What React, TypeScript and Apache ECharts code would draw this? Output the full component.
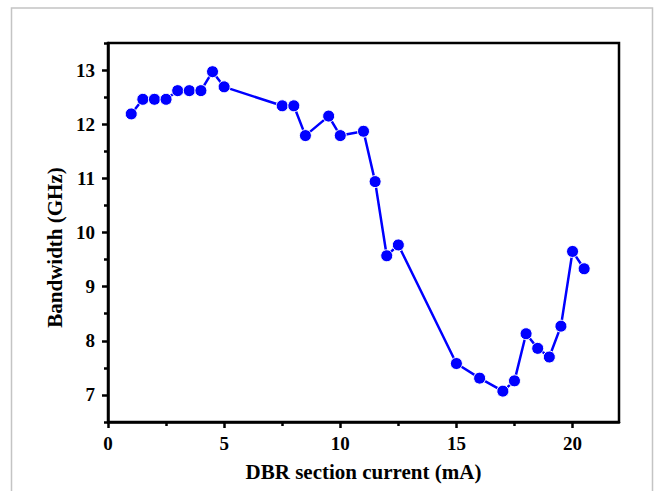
import React, { useEffect, useRef } from "react";
import * as echarts from "echarts";

const current = [1, 1.5, 2, 2.5, 3, 3.5, 4, 4.5, 5, 7.5, 8, 8.5, 9.5, 10, 11, 11.5, 12, 12.5, 15, 16, 17, 17.5, 18, 18.5, 19, 19.5, 20, 20.5];
const bandwidth = [12.19, 12.46, 12.46, 12.46, 12.62, 12.62, 12.62, 12.97, 12.69, 12.34, 12.34, 11.79, 12.15, 11.79, 11.87, 10.94, 9.57, 9.77, 7.58, 7.31, 7.07, 7.26, 8.13, 7.86, 7.70, 8.27, 9.65, 9.33];

const xMajorTicks = [0, 5, 10, 15, 20];
const xMinorTicks = [2.5, 7.5, 12.5, 17.5];
const yMajorTicks = [7, 8, 9, 10, 11, 12, 13];
const yMinorTicks = [6.5, 7.5, 8.5, 9.5, 10.5, 11.5, 12.5, 13.5];

const FONT = "'Liberation Serif', 'Times New Roman', serif";

export default function App() {
  const ref = useRef<HTMLDivElement>(null);
  useEffect(() => {
    if (!ref.current) return;
    const chart = echarts.init(ref.current, undefined, { renderer: "svg" });
    const labelStyle = { fontFamily: FONT, fontWeight: "bold" as const, fontSize: 19, color: "#000" };
    chart.setOption({
      animation: false,
      backgroundColor: "#fff",
      graphic: [
        {
          type: "rect",
          shape: { x: 11.5, y: 8, width: 641, height: 520 },
          style: { fill: "none", stroke: "#c4c4c4", lineWidth: 1.5 },
          silent: true,
          z: -10,
        },
      ],
      grid: {
        left: 108,
        top: 43,
        right: 37,
        bottom: 69,
        show: true,
        borderColor: "#000",
        borderWidth: 2.5,
        backgroundColor: "transparent",
      },
      xAxis: [
        {
          type: "value",
          min: 0,
          max: 22,
          name: "DBR section current (mA)",
          nameLocation: "middle",
          nameGap: 39,
          nameTextStyle: { fontFamily: FONT, fontWeight: "bold", fontSize: 21, color: "#000" },
          axisLine: { show: true, onZero: false, lineStyle: { color: "#000", width: 2.5 } },
          axisTick: { show: true, inside: false, length: 6, customValues: xMajorTicks, lineStyle: { color: "#000", width: 2.5 } },
          axisLabel: { ...labelStyle, margin: 12, customValues: xMajorTicks },
          splitLine: { show: false },
        },
        {
          type: "value",
          min: 0,
          max: 22,
          position: "bottom",
          offset: 0,
          axisLine: { show: false },
          axisTick: { show: true, inside: false, length: 4, customValues: xMinorTicks, lineStyle: { color: "#000", width: 2.5 } },
          axisLabel: { show: false },
          splitLine: { show: false },
        },
      ],
      yAxis: [
        {
          type: "value",
          min: 6.5,
          max: 13.5,
          name: "Bandwidth (GHz)",
          nameLocation: "middle",
          nameGap: 40,
          nameTextStyle: { fontFamily: FONT, fontWeight: "bold", fontSize: 21, color: "#000", padding: [0, 30, 0, 0] },
          axisLine: { show: true, onZero: false, lineStyle: { color: "#000", width: 2.5 } },
          axisTick: { show: true, inside: false, length: 6, customValues: yMajorTicks, lineStyle: { color: "#000", width: 2.5 } },
          axisLabel: { ...labelStyle, margin: 13, customValues: yMajorTicks },
          splitLine: { show: false },
        },
        {
          type: "value",
          min: 6.5,
          max: 13.5,
          position: "left",
          offset: 0,
          axisLine: { show: false },
          axisTick: { show: true, inside: false, length: 4, customValues: yMinorTicks, lineStyle: { color: "#000", width: 2.5 } },
          axisLabel: { show: false },
          splitLine: { show: false },
        },
      ],
      series: [
        {
          type: "line",
          xAxisIndex: 0,
          yAxisIndex: 0,
          data: current.map((c, i) => [c, bandwidth[i]]),
          symbol: "circle",
          symbolSize: 12,
          lineStyle: { color: "#0000ff", width: 2.5 },
          itemStyle: { color: "#0000ff", borderColor: "#fff", borderWidth: 1 },
        },
      ],
    });
    return () => chart.dispose();
  }, []);
  return <div ref={ref} style={{ width: 656, height: 491, position: "absolute", left: 0, top: 0 }} />;
}
